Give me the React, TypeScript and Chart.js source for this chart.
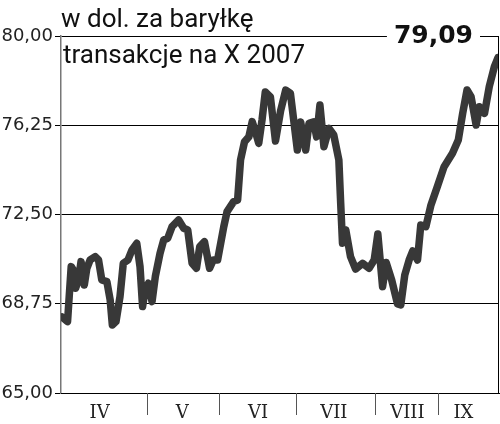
import { useEffect, useRef } from "react";
import { Chart, registerables } from "chart.js";

Chart.register(...registerables);

// trading-day positions (x) and prices in USD per barrel
const days = [
  0.3, 1.8, 2.8, 3.4, 4.0, 4.8, 5.5, 6.4, 7.1, 8.0, 9.4, 10.3, 11.2, 12.6, 13.5, 14.1, 15.1, 16.2, 17.1, 18.4,
  19.5, 20.8, 21.7, 22.4, 23.1, 24.0, 25.0, 25.9, 27.2, 28.2, 29.3, 30.5, 32.3, 33.7, 34.8, 36.0, 37.2, 38.1, 39.4, 40.8,
  41.8, 43.0, 44.7, 45.6, 47.4, 48.5, 49.3, 50.4, 51.6, 52.5, 53.4, 54.3, 55.2, 56.1, 57.5, 58.9, 60.3, 61.7, 63.0, 64.9,
  65.8, 67.2, 68.1, 69.4, 70.2, 71.1, 72.2, 73.6, 74.9, 76.3, 76.8, 77.3, 78.2, 79.5, 80.9, 82.8, 84.6, 86.0, 87.0, 88.3,
  89.3, 90.8, 92.4, 93.3, 94.4, 95.6, 96.6, 97.9, 98.8, 100.2, 101.6, 103.4, 105.2, 107.5, 109.1, 110.3, 111.5, 112.6, 114.0, 114.9,
  116.3, 117.6, 119.0, 120.0,
];
const prices = [
  68.19, 68.0, 70.31, 70.17, 69.4, 69.75, 70.52, 69.54, 70.24, 70.59, 70.73, 70.59, 69.75, 69.68, 68.91, 67.86, 68.0, 69.05, 70.45, 70.59,
  71.01, 71.29, 70.31, 68.63, 69.33, 69.61, 68.84, 69.89, 70.87, 71.43, 71.5, 71.99, 72.27, 71.92, 71.85, 70.45, 70.24, 71.15, 71.36, 70.24,
  70.59, 70.59, 71.99, 72.62, 73.04, 73.11, 74.79, 75.56, 75.77, 76.4, 75.98, 75.49, 76.47, 77.65, 77.44, 75.59, 76.85, 77.73, 77.59, 75.21,
  76.39, 75.21, 76.33, 76.39, 75.76, 77.1, 75.35, 76.12, 75.84, 74.79, 72.98, 71.29, 71.85, 70.73, 70.21, 70.45, 70.24, 70.59, 71.68, 69.47,
  70.48, 69.75, 68.74, 68.7, 69.96, 70.59, 70.97, 70.59, 72.06, 71.99, 72.9, 73.7, 74.51, 75.07, 75.63, 76.75, 77.73, 77.45, 76.26, 77.03,
  76.75, 77.87, 78.71, 79.09,
];

const yTicks = [65, 68.75, 72.5, 76.25, 80];
const monthNames = ["IV", "V", "VI", "VII", "VIII", "IX"];
const monthLabelAt = [10.6, 33.3, 54.1, 74.9, 95.1, 110.5];
const monthBreaks = [23.7, 43.5, 64.4, 86.2, 103.5];
const titleLine1 = "w dol. za baryłkę";
const titleLine2 = "transakcje na X 2007";

const fmt = (v: number) => v.toFixed(2).replace(".", ",");

const overlay = {
  id: "overlay",
  afterDraw(chart: any) {
    const ctx = chart.ctx as CanvasRenderingContext2D;
    const a = chart.chartArea;
    const xs = chart.scales.x;
    ctx.save();
    // right border and bottom line
    ctx.strokeStyle = "#000";
    ctx.lineWidth = 1;
    ctx.beginPath();
    ctx.moveTo(a.right + 0.5, a.top);
    ctx.lineTo(a.right + 0.5, a.bottom);
    ctx.moveTo(a.left, Math.round(a.bottom) + 0.5);
    ctx.lineTo(chart.width, Math.round(a.bottom) + 0.5);
    ctx.stroke();
    // month separators
    ctx.strokeStyle = "#555";
    ctx.beginPath();
    for (const b of monthBreaks) {
      const px = Math.round(xs.getPixelForValue(b)) + 0.5;
      ctx.moveTo(px, a.bottom);
      ctx.lineTo(px, a.bottom + 22);
    }
    ctx.stroke();
    // month labels
    ctx.fillStyle = "#222";
    ctx.font = '18px "DejaVu Serif"';
    ctx.textAlign = "center";
    ctx.textBaseline = "alphabetic";
    monthNames.forEach((m, i) => {
      ctx.fillText(m, xs.getPixelForValue(monthLabelAt[i]), a.bottom + 25);
    });
    // last value label on top border
    const last = fmt(prices[prices.length - 1]);
    ctx.font = 'bold 25px "DejaVu Sans"';
    const w = ctx.measureText(last).width;
    const right = a.right - 25;
    ctx.fillStyle = "#fff";
    ctx.fillRect(right - w - 7, a.top - 14, w + 14, 26);
    ctx.fillStyle = "#111";
    ctx.textAlign = "right";
    ctx.fillText(last, right, a.top + 7);
    // titles
    ctx.textAlign = "left";
    ctx.font = '26px Roboto';
    ctx.fillText(titleLine1, 61, 27);
    ctx.fillText(titleLine2, 63, 63);
    ctx.restore();
  },
};

export default function App() {
  const ref = useRef<HTMLCanvasElement>(null);
  useEffect(() => {
    if (!ref.current) return;
    const chart = new Chart(ref.current, {
      type: "line",
      data: {
        datasets: [
          {
            data: days.map((d, i) => ({ x: d, y: prices[i] })),
            borderColor: "#383838",
            borderWidth: 7.5,
            pointRadius: 0,
            tension: 0,
            borderJoinStyle: "round",
            borderCapStyle: "round",
          },
        ],
      },
      options: {
        animation: false,
        responsive: false,
        layout: { padding: { top: 36, right: 2, left: 0, bottom: 0 } },
        plugins: { legend: { display: false }, tooltip: { enabled: false } },
        scales: {
          x: {
            type: "linear",
            min: 0,
            max: 120,
            ticks: { display: false },
            grid: { display: false },
            border: { display: false },
            afterFit: (s: any) => {
              s.height = 31;
            },
          },
          y: {
            min: 65,
            max: 80,
            afterBuildTicks: (s: any) => {
              s.ticks = yTicks.map((v) => ({ value: v }));
            },
            ticks: {
              callback: (v: any) => fmt(Number(v)),
              color: "#222",
              font: { family: '"DejaVu Sans"', size: 18 },
              padding: 2,
            },
            grid: { color: "#000", lineWidth: 1, tickLength: 6 },
            border: { display: true, color: "#777", width: 1.5 },
            afterFit: (s: any) => {
              s.width = 61;
            },
          },
        },
      },
      plugins: [overlay],
    } as any);
    return () => chart.destroy();
  }, []);
  return (
    <div style={{ position: "absolute", left: 0, top: 0, width: 500, height: 424, background: "#fff" }}>
      <canvas ref={ref} width={500} height={424} style={{ display: "block" }} />
    </div>
  );
}
